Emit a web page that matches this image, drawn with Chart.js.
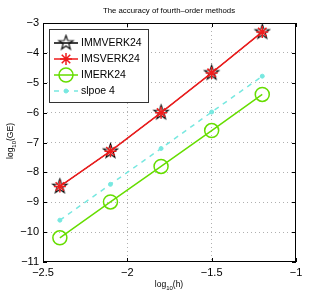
<!DOCTYPE html>
<html>
<head>
<meta charset="utf-8">
<script src="https://cdn.jsdelivr.net/npm/chart.js@4.4.0/dist/chart.umd.min.js"></script>
<style>
  html, body { margin: 0; padding: 0; background: #fff; }
  #wrap { width: 327px; height: 294px; }
</style>
</head>
<body>
<div id="wrap"><canvas id="errChart" width="327" height="294"></canvas></div>
<script>
// log10(h) values
const logH = [-2.4, -2.1, -1.8, -1.5, -1.2];
// log10(GE) values
const immverk24 = [-8.47, -7.29, -6.0, -4.67, -3.3];
const imsverk24 = [-8.47, -7.29, -6.0, -4.67, -3.3];
const imerk24 = [-10.19, -8.99, -7.8, -6.6, -5.39];
const slope4 = [-9.6, -8.4, -7.2, -5.98, -4.78];
const xTicks = [-2.5, -2, -1.5, -1];
const yTicks = [-11, -10, -9, -8, -7, -6, -5, -4, -3];

const FONT = 'Liberation Sans, Arial, Helvetica, sans-serif';

function pts(ys) {
    return logH.map((x, i) => ({ x: x, y: ys[i] }));
}

// five-pointed star marker (matlab 'p')
function makePentagram(r, color, lw) {
    const s = Math.ceil(2 * r + 4);
    const c = document.createElement('canvas');
    c.width = s; c.height = s;
    const g = c.getContext('2d');
    g.strokeStyle = color;
    g.lineWidth = lw;
    g.beginPath();
    for (let i = 0; i < 10; i++) {
        const a = -Math.PI / 2 + i * Math.PI / 5;
        const rr = i % 2 ? r * 0.4 : r;
        g.lineTo(s / 2 + rr * Math.cos(a), s / 2 + rr * Math.sin(a));
    }
    g.closePath();
    g.stroke();
    return c;
}
const pentagram = makePentagram(7.5, '#000', 1.1);

const RED = '#ee1c1c';
const GREEN = '#66dd00';
const CYAN = '#77e8e0';

const decorations = {
    id: 'decorations',
    afterDatasetsDraw(chart) {
        const ctx = chart.ctx;
        const a = chart.chartArea;
        const xs = chart.scales.x, ys = chart.scales.y;
        ctx.save();
        // box
        ctx.strokeStyle = '#000';
        ctx.lineWidth = 1;
        ctx.strokeRect(a.left + 0.5, a.top + 0.5, a.right - a.left - 1, a.bottom - a.top - 1);
        // inward ticks
        ctx.beginPath();
        xTicks.forEach(v => {
            const px = Math.round(xs.getPixelForValue(v)) + 0.5;
            ctx.moveTo(px, a.bottom); ctx.lineTo(px, a.bottom - 4);
            ctx.moveTo(px, a.top); ctx.lineTo(px, a.top + 4);
        });
        yTicks.forEach(v => {
            const py = Math.round(ys.getPixelForValue(v)) + 0.5;
            ctx.moveTo(a.left, py); ctx.lineTo(a.left + 4, py);
            ctx.moveTo(a.right, py); ctx.lineTo(a.right - 4, py);
        });
        ctx.stroke();

        // legend
        const lx = 49, ly = 29, lw = 99, lh = 73;
        ctx.fillStyle = '#fff';
        ctx.fillRect(lx, ly, lw, lh);
        ctx.strokeStyle = '#333';
        ctx.strokeRect(lx + 0.5, ly + 0.5, lw, lh);
        const rows = [
            { ds: 1, text: 'IMMVERK24' },
            { ds: 0, text: 'IMSVERK24' },
            { ds: 2, text: 'IMERK24' },
            { ds: 3, text: 'slpoe 4' }
        ];
        rows.forEach((r, i) => {
            const d = chart.data.datasets[r.ds];
            const y = 43 + i * 16;
            ctx.beginPath();
            ctx.strokeStyle = d.borderColor;
            ctx.lineWidth = 1.5;
            ctx.setLineDash(d.borderDash || []);
            ctx.moveTo(54, y); ctx.lineTo(78, y);
            ctx.stroke();
            ctx.setLineDash([]);
            ctx.strokeStyle = d.pointBorderColor || d.borderColor;
            ctx.fillStyle = d.pointBackgroundColor || 'rgba(0,0,0,0)';
            ctx.lineWidth = d.pointBorderWidth || 1;
            Chart.helpers.drawPoint(ctx, {
                pointStyle: d.pointStyle, radius: d.pointRadius, rotation: 0,
                borderWidth: d.pointBorderWidth || 1
            }, 66, y);
            ctx.fillStyle = '#000';
            ctx.font = '10.5px ' + FONT;
            ctx.textAlign = 'left';
            ctx.textBaseline = 'middle';
            ctx.fillText(r.text, 81, y + 0.5);
        });

        // title
        ctx.fillStyle = '#000';
        ctx.font = '7.8px ' + FONT;
        ctx.textAlign = 'center';
        ctx.textBaseline = 'middle';
        ctx.fillText('The accuracy of fourth\u2013order methods', 169, 11);

        // axis labels with subscripts
        function subLabel(pre, sub, post, cx, cy) {
            ctx.font = '8.5px ' + FONT;
            const w1 = ctx.measureText(pre).width;
            const w3 = ctx.measureText(post).width;
            ctx.font = '6px ' + FONT;
            const w2 = ctx.measureText(sub).width;
            let x = cx - (w1 + w2 + w3) / 2;
            ctx.textAlign = 'left';
            ctx.textBaseline = 'alphabetic';
            ctx.font = '8.5px ' + FONT;
            ctx.fillText(pre, x, cy);
            x += w1;
            ctx.font = '6px ' + FONT;
            ctx.fillText(sub, x, cy + 2.5);
            x += w2;
            ctx.font = '8.5px ' + FONT;
            ctx.fillText(post, x, cy);
        }
        subLabel('log', '10', '(h)', 169, 287);
        ctx.translate(13, 141);
        ctx.rotate(-Math.PI / 2);
        subLabel('log', '10', '(GE)', 0, 0);
        ctx.restore();
    }
};

const minus = v => String(v).replace('-', '\u2212');

new Chart(document.getElementById('errChart').getContext('2d'), {
    type: 'line',
    data: {
        datasets: [
            {
                label: 'IMSVERK24', data: pts(imsverk24), order: 1,
                borderColor: RED, borderWidth: 1.6,
                pointStyle: 'star', pointRadius: 6, pointBorderWidth: 1.5,
                pointBorderColor: RED, pointBackgroundColor: RED
            },
            {
                label: 'IMMVERK24', data: pts(immverk24), order: 2,
                borderColor: '#000', borderWidth: 1,
                pointStyle: pentagram, pointRadius: 7.5, pointBorderWidth: 1.1,
                pointBorderColor: '#000'
            },
            {
                label: 'IMERK24', data: pts(imerk24), order: 3,
                borderColor: GREEN, borderWidth: 1.5,
                pointStyle: 'circle', pointRadius: 7, pointBorderWidth: 1.5,
                pointBorderColor: GREEN, pointBackgroundColor: 'rgba(0,0,0,0)'
            },
            {
                label: 'slpoe 4', data: pts(slope4), order: 4,
                borderColor: CYAN, borderWidth: 1.5, borderDash: [5, 5],
                pointStyle: 'circle', pointRadius: 2, pointBorderWidth: 1,
                pointBorderColor: CYAN, pointBackgroundColor: CYAN
            }
        ]
    },
    options: {
        responsive: false,
        animation: false,
        devicePixelRatio: 1,
        layout: { padding: { left: 0, top: 23, right: 31, bottom: 0 } },
        plugins: { legend: { display: false }, tooltip: { enabled: false } },
        scales: {
            x: {
                type: 'linear', min: -2.5, max: -1,
                afterFit: s => { s.height = 32; },
                afterBuildTicks: s => { s.ticks = xTicks.map(v => ({ value: v })); },
                ticks: { padding: 4, color: '#000', font: { family: FONT, size: 11 }, callback: minus },
                grid: {
                    drawTicks: false, lineWidth: 1,
                    color: c => (c.tick && (c.tick.value === -2.5 || c.tick.value === -1)) ? 'rgba(0,0,0,0)' : '#b0b0b0'
                },
                border: { display: false, dash: [1, 3] }
            },
            y: {
                type: 'linear', min: -11, max: -3,
                afterFit: s => { s.width = 43; },
                afterBuildTicks: s => { s.ticks = yTicks.map(v => ({ value: v })); },
                ticks: { padding: 4, color: '#000', font: { family: FONT, size: 11 }, callback: minus },
                grid: {
                    drawTicks: false, lineWidth: 1,
                    color: c => (c.tick && (c.tick.value === -11 || c.tick.value === -3)) ? 'rgba(0,0,0,0)' : '#b0b0b0'
                },
                border: { display: false, dash: [1, 3] }
            }
        }
    },
    plugins: [decorations]
});
</script>
</body>
</html>
